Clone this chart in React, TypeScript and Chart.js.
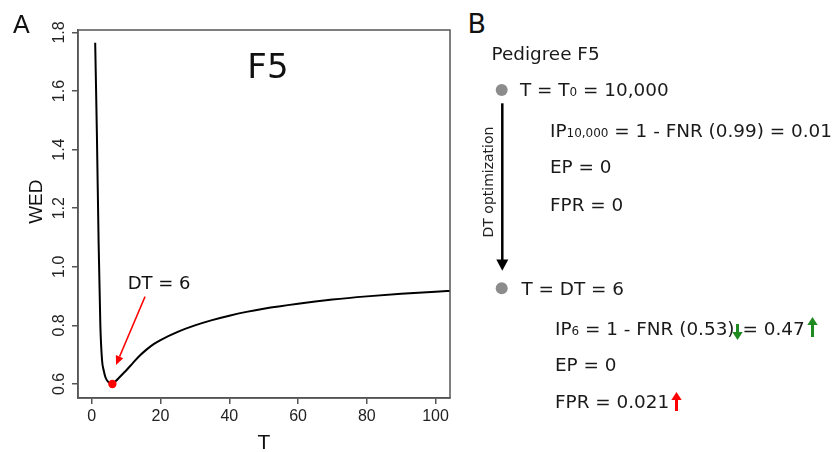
import React, { useEffect, useRef } from 'react';
import { Chart, registerables } from 'chart.js';

Chart.register(...registerables);

// ---- data ----
const T_VALUES = [1, 1.5, 2, 2.5, 3, 3.5, 4, 5, 6, 7, 8, 9, 10, 12, 14, 16, 18, 20, 25, 30, 35, 40, 45, 50, 60, 70, 80, 90, 100, 105];
const WED_VALUES = [1.765, 1.45, 1.08, 0.8, 0.68, 0.645, 0.622, 0.605, 0.6, 0.61, 0.622, 0.634, 0.646, 0.672, 0.697, 0.718, 0.736, 0.75, 0.778, 0.8, 0.818, 0.833, 0.846, 0.857, 0.874, 0.888, 0.899, 0.908, 0.915, 0.918];
const DT_VALUE = 6;
const WED_AT_DT = 0.6;
const X_TICKS = [0, 20, 40, 60, 80, 100];
const Y_TICKS = [0.6, 0.8, 1.0, 1.2, 1.4, 1.6, 1.8];
const X_MIN = -4;
const X_MAX = 104.2;
const Y_MIN = 0.552;
const Y_MAX = 1.8085;

// annotation anchors in data units
const F5_LABEL = 'F5';
const F5_AT = { x: 51.25, y: 1.643 };
const DT_LABEL = 'DT = 6';
const DT_LABEL_AT = { x: 19.6, y: 0.923 };
const ARROW_FROM = { x: 15.5, y: 0.898 };
const ARROW_TO = { x: 7.06, y: 0.665 };

const SANS = '"Liberation Sans", Arial, Helvetica, sans-serif';
const DJV = '"DejaVu Sans", Verdana, sans-serif';

const annotationPlugin = {
  id: 'annotations',
  afterDraw(chart: any) {
    const { ctx, chartArea: a, scales } = chart;
    const x = scales.x;
    const y = scales.y;
    ctx.save();
    // box
    ctx.strokeStyle = '#555';
    ctx.lineWidth = 1.5;
    ctx.strokeRect(a.left, a.top, a.right - a.left, a.bottom - a.top);

    // panel title
    ctx.fillStyle = '#111';
    ctx.textAlign = 'center';
    ctx.textBaseline = 'alphabetic';
    ctx.font = `34px ${DJV}`;
    ctx.fillText(F5_LABEL, x.getPixelForValue(F5_AT.x), y.getPixelForValue(F5_AT.y));

    // DT label
    ctx.font = `18px ${DJV}`;
    ctx.fillText(DT_LABEL, x.getPixelForValue(DT_LABEL_AT.x), y.getPixelForValue(DT_LABEL_AT.y));

    // red arrow
    const x0 = x.getPixelForValue(ARROW_FROM.x);
    const y0 = y.getPixelForValue(ARROW_FROM.y);
    const x1 = x.getPixelForValue(ARROW_TO.x);
    const y1 = y.getPixelForValue(ARROW_TO.y);
    const ang = Math.atan2(y1 - y0, x1 - x0);
    const hl = 9;
    const hw = 4;
    const c = Math.cos(ang);
    const s = Math.sin(ang);
    ctx.strokeStyle = '#ff0000';
    ctx.fillStyle = '#ff0000';
    ctx.lineWidth = 1.5;
    ctx.beginPath();
    ctx.moveTo(x0, y0);
    ctx.lineTo(x1 - hl * c, y1 - hl * s);
    ctx.stroke();
    ctx.beginPath();
    ctx.moveTo(x1, y1);
    ctx.lineTo(x1 - hl * c + hw * s, y1 - hl * s - hw * c);
    ctx.lineTo(x1 - hl * c - hw * s, y1 - hl * s + hw * c);
    ctx.closePath();
    ctx.fill();

    // y axis title
    ctx.save();
    ctx.translate(37.2, (a.top + a.bottom) / 2 - 12.3);
    ctx.rotate(-Math.PI / 2);
    ctx.fillStyle = '#111';
    ctx.font = `19px ${SANS}`;
    ctx.textAlign = 'center';
    ctx.textBaseline = 'middle';
    ctx.fillText('WED', 0, 0);
    ctx.restore();

    ctx.restore();
  },
};

function ChartPanel() {
  const ref = useRef<HTMLCanvasElement | null>(null);
  useEffect(() => {
    if (!ref.current) return;
    const chart = new Chart(ref.current, {
      type: 'line',
      data: {
        datasets: [
          {
            data: T_VALUES.map((t, i) => ({ x: t, y: WED_VALUES[i] })),
            borderColor: '#000',
            borderWidth: 2,
            pointRadius: 0,
            cubicInterpolationMode: 'monotone',
            fill: false,
            order: 1,
          },
          {
            data: [{ x: DT_VALUE, y: WED_AT_DT }],
            showLine: false,
            pointRadius: 4.2,
            backgroundColor: '#ff0000',
            borderColor: '#ff0000',
            borderWidth: 0,
            order: 0,
          },
        ],
      },
      options: {
        animation: false,
        responsive: false,
        maintainAspectRatio: false,
        layout: { padding: { top: 30, right: 10, left: 0, bottom: 0 } },
        plugins: { legend: { display: false }, tooltip: { enabled: false } },
        scales: {
          x: {
            type: 'linear',
            min: X_MIN,
            max: X_MAX,
            afterBuildTicks: (s: any) => {
              s.ticks = X_TICKS.map((v) => ({ value: v }));
            },
            afterFit: (s: any) => {
              s.height = 54;
            },
            grid: { drawOnChartArea: false, drawTicks: true, tickLength: 6, color: '#555', lineWidth: 1.5 },
            border: { display: true, color: '#555', width: 1.5 },
            ticks: {
              font: { family: SANS, size: 16 },
              color: '#222',
              padding: 3,
              maxRotation: 0,
              autoSkip: false,
              callback: (v: any) => String(v),
            },
            title: {
              display: true,
              text: 'T',
              color: '#111',
              font: { family: SANS, size: 21, lineHeight: 0.8 },
              padding: { top: 0, bottom: 0 },
            },
          },
          y: {
            type: 'linear',
            min: Y_MIN,
            max: Y_MAX,
            afterBuildTicks: (s: any) => {
              s.ticks = Y_TICKS.map((v) => ({ value: v }));
            },
            afterFit: (s: any) => {
              s.width = 78;
            },
            grid: { drawOnChartArea: false, drawTicks: true, tickLength: 6, color: '#555', lineWidth: 1.5 },
            border: { display: true, color: '#555', width: 1.5 },
            ticks: {
              font: { family: SANS, size: 16 },
              color: '#222',
              padding: 1,
              minRotation: 90,
              maxRotation: 90,
              crossAlign: 'center',
              autoSkip: false,
              callback: (v: any) => Number(v).toFixed(1),
            },
            title: { display: false },
          },
        },
      } as any,
      plugins: [annotationPlugin],
    });
    return () => chart.destroy();
  }, []);
  return (
    <canvas
      ref={ref}
      width={460}
      height={452}
      style={{ position: 'absolute', left: 0, top: 0, width: 460, height: 452 }}
    />
  );
}

// ---- right panel ----
const FS = 18.4;
const LH = 30;
const BASE_OFF = (LH - 1.164 * FS) / 2 + 0.928 * FS;

function TextLine({ left, baseline, children }: { left: number; baseline: number; children: any }) {
  return (
    <div
      style={{
        position: 'absolute',
        left,
        top: baseline - BASE_OFF,
        fontFamily: DJV,
        fontSize: FS,
        lineHeight: LH + 'px',
        whiteSpace: 'nowrap',
        color: '#1a1a1a',
      }}
    >
      {children}
    </div>
  );
}

function Sub({ children }: { children: any }) {
  return <span style={{ fontSize: 12, verticalAlign: 'baseline' }}>{children}</span>;
}

function VArrow({ dir, color, h, va, ml }: { dir: 'up' | 'down'; color: string; h: number; va: number; ml: number }) {
  const head = 8;
  return (
    <svg
      width={11}
      height={h}
      viewBox={`0 0 11 ${h}`}
      style={{ display: 'inline-block', verticalAlign: va + 'px', marginLeft: ml }}
    >
      {dir === 'up' ? (
        <>
          <rect x={4} y={head - 1} width={3} height={h - head + 1} fill={color} />
          <polygon points={`0.3,${head} 5.5,0 10.7,${head}`} fill={color} />
        </>
      ) : (
        <>
          <rect x={4} y={0} width={3} height={h - head + 1} fill={color} />
          <polygon points={`0.3,${h - head} 5.5,${h} 10.7,${h - head}`} fill={color} />
        </>
      )}
    </svg>
  );
}

const GREEN = '#1f8a1f';
const RED = '#ff0000';

export default function App() {
  return (
    <div
      style={{
        position: 'fixed',
        left: 0,
        top: 0,
        width: 835,
        height: 452,
        background: '#fff',
        overflow: 'hidden',
      }}
    >
      <ChartPanel />
      <div
        style={{
          position: 'absolute',
          left: 13,
          top: 11.8,
          fontFamily: SANS,
          fontSize: 25,
          lineHeight: '25px',
          color: '#111',
        }}
      >
        A
      </div>
      <div
        style={{
          position: 'absolute',
          left: 467.4,
          top: 10.4,
          fontFamily: DJV,
          fontSize: 27,
          lineHeight: '27px',
          color: '#111',
        }}
      >
        B
      </div>

      <svg width={835} height={452} style={{ position: 'absolute', left: 0, top: 0, pointerEvents: 'none' }}>
        <circle cx={501.7} cy={90} r={6} fill="#8c8c8c" />
        <circle cx={501.7} cy={288.3} r={6} fill="#8c8c8c" />
        <line x1={502.3} y1={103.3} x2={502.3} y2={261} stroke="#000" strokeWidth={2.5} />
        <polygon points="496.3,259.5 508.3,259.5 502.3,270.7" fill="#000" />
      </svg>

      <div
        style={{
          position: 'absolute',
          left: 487.5,
          top: 182,
          transform: 'translate(-50%, -50%) rotate(-90deg)',
          fontFamily: DJV,
          fontSize: 14,
          lineHeight: '14px',
          whiteSpace: 'nowrap',
          color: '#222',
        }}
      >
        DT optimization
      </div>

      <TextLine left={491.5} baseline={60}>Pedigree F5</TextLine>
      <TextLine left={520} baseline={96.7}>
        T = T<Sub>0</Sub> = 10,000
      </TextLine>
      <TextLine left={550} baseline={137.5}>
        IP<Sub>10,000</Sub> = 1 - FNR (0.99) = 0.01
      </TextLine>
      <TextLine left={550} baseline={173}>EP = 0</TextLine>
      <TextLine left={550} baseline={211}>FPR = 0</TextLine>

      <TextLine left={521.5} baseline={295}>T = DT = 6</TextLine>
      <TextLine left={555} baseline={335}>
        IP<Sub>6</Sub> = 1 - FNR (0.53)
        <VArrow dir="down" color={GREEN} h={16} va={-5} ml={-3} />= 0.47
        <VArrow dir="up" color={GREEN} h={20} va={-2} ml={2} />
      </TextLine>
      <TextLine left={555} baseline={371.7}>EP = 0</TextLine>
      <TextLine left={555} baseline={408.3}>
        FPR = 0.021
        <VArrow dir="up" color={RED} h={19} va={-3} ml={2} />
      </TextLine>
    </div>
  );
}
